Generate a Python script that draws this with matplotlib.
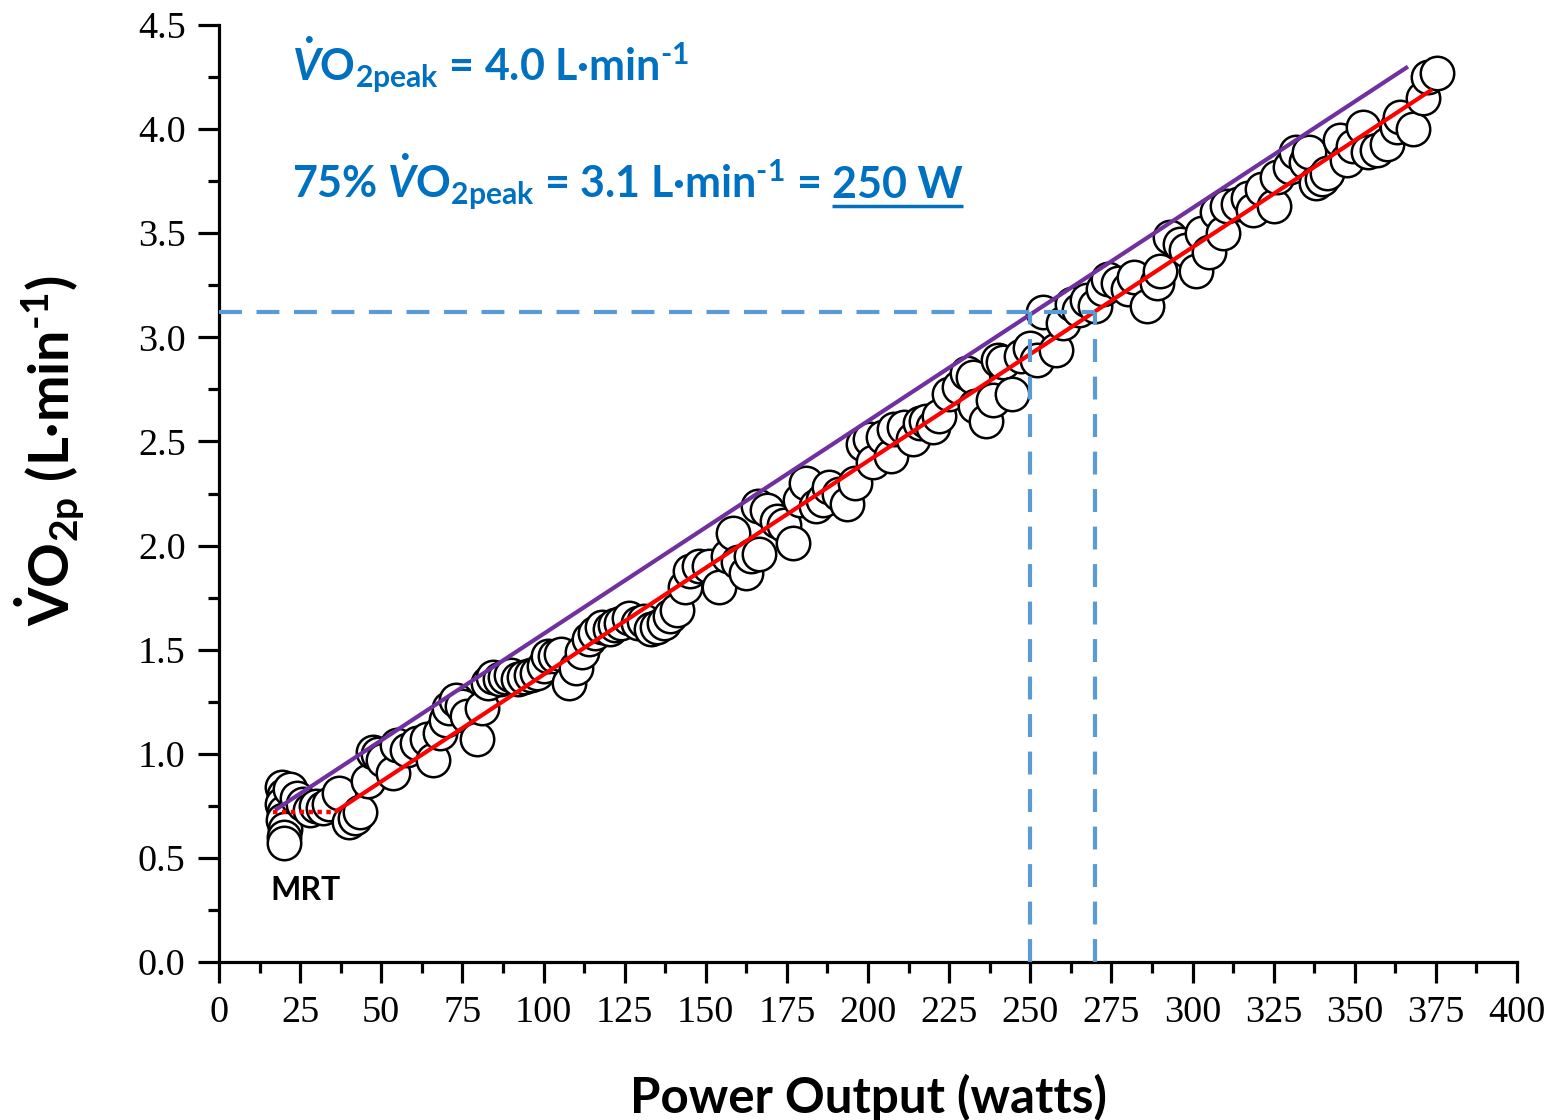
import matplotlib
matplotlib.use("Agg")
import matplotlib.pyplot as plt
from matplotlib.ticker import MultipleLocator, FormatStrFormatter

# breath-averaged VO2 against ramp power output
power_w = [19.5, 20, 19.5, 20, 19.8, 20.2, 20, 20,
           22, 24, 26, 28, 30, 32, 34, 37, 40, 42, 43.5, 46, 47.5, 49, 50.5, 53.5,
           55, 58, 61, 64, 66, 68, 70, 71, 73, 75, 76.5, 79.5, 81, 83, 84.5, 86.5,
           88, 90, 92, 94, 96, 98, 100, 101.5, 103.5, 105.5, 108, 110, 112, 114,
           116, 118, 120.5, 122, 124, 126.5, 129, 131, 133, 135, 137, 139, 141,
           143.5, 145, 148, 151, 154, 157, 158.5, 160, 162.5, 164, 166, 166.5, 169,
           172, 174, 177, 179, 181, 184, 186, 188, 191, 193.5, 196, 198.5, 200.5,
           201.5, 204.5, 207, 208, 211, 214, 216, 218, 220, 222, 225, 228, 230.5,
           232.5, 233, 236.5, 238.5, 240, 241.5, 244.5, 247, 250, 252, 254, 258,
           260, 263, 265, 267.5, 270, 272.5, 274, 277, 280, 282, 286, 289, 290,
           293, 296, 298, 301, 303, 305, 307.5, 309.5, 310.5, 314, 317, 318.5,
           321.5, 325, 326, 330, 332, 335, 336, 338, 340, 341.5, 345.5, 347.5,
           349.5, 352.5, 354, 357, 360, 363, 364, 368, 371, 372.5, 375.5]
vo2_lmin = [0.84, 0.80, 0.76, 0.72, 0.68, 0.64, 0.60, 0.57,
            0.83, 0.79, 0.76, 0.73, 0.75, 0.74, 0.76, 0.81, 0.67, 0.69, 0.72, 0.87, 1.01, 1.00, 0.97, 0.91,
            1.04, 1.02, 1.05, 1.07, 0.97, 1.10, 1.16, 1.22, 1.26, 1.23, 1.18, 1.07, 1.22, 1.34, 1.37, 1.36,
            1.37, 1.38, 1.36, 1.37, 1.38, 1.39, 1.42, 1.47, 1.47, 1.48, 1.34, 1.41, 1.49, 1.55,
            1.58, 1.61, 1.60, 1.62, 1.63, 1.65, 1.63, 1.64, 1.60, 1.61, 1.63, 1.66, 1.69,
            1.80, 1.88, 1.90, 1.90, 1.80, 1.95, 2.06, 1.92, 1.87, 1.95, 2.19, 1.96, 2.17,
            2.12, 2.10, 2.01, 2.22, 2.30, 2.19, 2.22, 2.28, 2.25, 2.20, 2.30, 2.49, 2.51,
            2.40, 2.52, 2.43, 2.56, 2.57, 2.51, 2.59, 2.60, 2.57, 2.62, 2.73, 2.76, 2.83,
            2.81, 2.67, 2.60, 2.70, 2.89, 2.88, 2.73, 2.91, 2.95, 2.89, 3.12, 2.94,
            3.07, 3.16, 3.13, 3.18, 3.15, 3.23, 3.28, 3.26, 3.23, 3.29, 3.15, 3.26, 3.32,
            3.48, 3.45, 3.42, 3.32, 3.50, 3.41, 3.60, 3.50, 3.63, 3.64, 3.67, 3.61,
            3.71, 3.63, 3.77, 3.82, 3.89, 3.84, 3.89, 3.74, 3.76, 3.79, 3.95, 3.85,
            3.92, 4.01, 3.89, 3.90, 3.93, 4.01, 4.06, 4.00, 4.15, 4.25, 4.27]

# mean response time baseline, linear ramp fit and the MRT-shifted fit
baseline_w = [16.5, 35.7]
baseline_v = [0.72, 0.72]
fit_w = [35.7, 373.8]
fit_v = [0.72, 4.19]
shifted_w = [17.3, 366.4]
shifted_v = [0.73, 4.30]

target_v = 3.12
target_w = 250
fit_target_w = 270

plt.rcParams['mathtext.fontset'] = 'custom'
plt.rcParams['mathtext.rm'] = 'Lato:bold'
plt.rcParams['mathtext.it'] = 'Lato:italic:bold'
plt.rcParams['mathtext.bf'] = 'Lato:bold'
plt.rcParams['mathtext.default'] = 'rm'

W, H = 1555, 1120
fig = plt.figure(figsize=(W / 100, H / 100), dpi=100)
ax = fig.add_axes([219 / W, 1 - 962 / H, (1517 - 219) / W, (962 - 25) / H])

ax.scatter(power_w, vo2_lmin, s=580, facecolor='white', edgecolor='black',
           linewidths=1.8, zorder=2, clip_on=False)

ax.plot(shifted_w, shifted_v, color='#7030A0', lw=3, solid_capstyle='butt', zorder=3)
ax.plot(fit_w, fit_v, color='#FF0000', lw=3, solid_capstyle='butt', zorder=3)
ax.plot(baseline_w, baseline_v, color='#FF0000', lw=3.2, ls=(0, (1, 1)), zorder=3)

blue = '#5B9BD5'
dash = (0, (5.5, 3.5))
ax.plot([0, fit_target_w], [target_v, target_v], color=blue, lw=3, ls=dash, zorder=4)
ax.plot([target_w, target_w], [0, target_v], color=blue, lw=3, ls=dash, zorder=4)
ax.plot([fit_target_w, fit_target_w], [0, target_v], color=blue, lw=3, ls=dash, zorder=4)

ax.set_xlim(0, 400)
ax.set_ylim(0, 4.5)
ax.xaxis.set_major_locator(MultipleLocator(25))
ax.xaxis.set_minor_locator(MultipleLocator(12.5))
ax.yaxis.set_major_locator(MultipleLocator(0.5))
ax.yaxis.set_minor_locator(MultipleLocator(0.25))
ax.yaxis.set_major_formatter(FormatStrFormatter('%.1f'))

for side in ('top', 'right'):
    ax.spines[side].set_visible(False)
for side in ('left', 'bottom'):
    ax.spines[side].set_linewidth(2.3)

ax.tick_params(which='major', direction='out', length=15, width=2.3)
ax.tick_params(which='minor', direction='out', length=8, width=2.3)
ax.tick_params(axis='x', which='major', pad=9)
ax.tick_params(axis='y', which='major', pad=9)
for lab in ax.get_xticklabels() + ax.get_yticklabels():
    lab.set_fontfamily('Liberation Serif')
    lab.set_fontsize(27.5)

fig.text(869 / W, 1 - 1097 / H, 'Power Output (watts)', ha='center', va='center',
         fontfamily='Lato', fontweight='bold', fontsize=35.5)
fig.text(50 / W, 1 - 451 / H,
         r'$\dot{\mathrm{V}}\mathrm{O}_{\mathrm{2p}}\ \mathrm{(L·min}^{\text{-1}}\mathrm{)}$',
         rotation=90, ha='center', va='center', fontsize=40)

ax.text(15.7, 0.30, 'MRT', fontfamily='Lato', fontweight='bold', fontsize=23,
        ha='left', va='baseline', color='black')

txt_blue = '#0070C0'
ax.text(22.5, 4.23, r'$\dot{\mathit{V}}\mathrm{O}_{\mathrm{2peak}}\text{ = 4.0 L·min}^{\text{-1}}$',
        fontsize=31, color=txt_blue, ha='left', va='baseline')
t1 = ax.text(22.5, 3.67,
             r'$\text{75% }\dot{\mathit{V}}\mathrm{O}_{\mathrm{2peak}}\text{ = 3.1 L·min}^{\text{-1}}\text{ =}$',
             fontsize=31, color=txt_blue, ha='left', va='baseline')

fig.canvas.draw()
r = fig.canvas.get_renderer()
bb = t1.get_window_extent(r)
inv = ax.transData.inverted()
x_start = inv.transform((bb.x1 + 12, 0))[0]
t2 = ax.text(x_start, 3.67, '250 W', fontfamily='Lato', fontweight='bold',
             fontsize=31, color=txt_blue, ha='left', va='baseline')
fig.canvas.draw()
bb2 = t2.get_window_extent(r)
x0 = inv.transform((bb2.x0, 0))[0]
x1 = inv.transform((bb2.x1, 0))[0]
ax.plot([x0, x1], [3.63, 3.63], color=txt_blue, lw=2.5, solid_capstyle='butt', clip_on=False)

fig.savefig('out.png', dpi=100)
